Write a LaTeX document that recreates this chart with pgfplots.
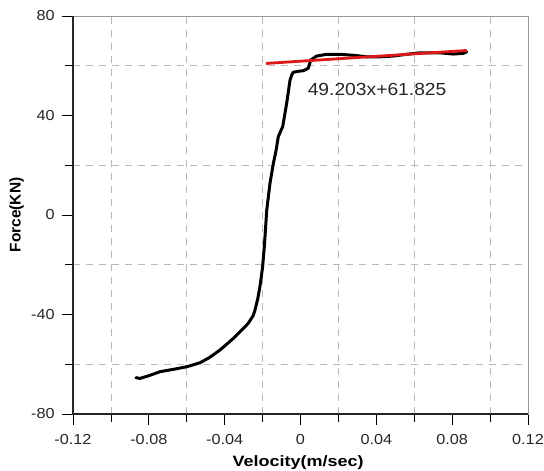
\documentclass[border=0pt]{standalone}
\usepackage{fontspec}
\setmainfont{Liberation Sans}
\usepackage{pgfplots}
\pgfplotsset{compat=1.18}
\definecolor{gridgray}{RGB}{185,185,185}
\definecolor{fitred}{RGB}{222,24,24}
\begin{document}
\begin{tikzpicture}
\begin{axis}[
  at={(0pt,0pt)}, anchor=south west,
  scale only axis, width=455pt, height=398pt,
  xmin=-0.12, xmax=0.12, ymin=-80, ymax=80,
  xtick={-0.12,-0.08,-0.04,0,0.04,0.08,0.12},
  xticklabels={-0.12,-0.08,-0.04,0,0.04,0.08,0.12},
  ytick={-80,-40,0,40,80},
  minor xtick={-0.1,-0.06,-0.02,0.02,0.06,0.1},
  minor ytick={-60,-20,20,60},
  tick align=outside, tick pos=left,
  major tick length=11pt, minor tick length=8pt,
  every tick/.style={black, line width=0.8pt},
  minor grid style={gridgray, dash pattern=on 7pt off 6pt, line width=0.7pt},
  xminorgrids, yminorgrids,
  axis line style={gray!80, line width=0.6pt},
  /pgf/number format/assume math mode=true,
  tick label style={font=\fontsize{14.5}{16}\selectfont, xscale=1.12, text=black!85},
  xticklabel style={yshift=-6pt},
  yticklabel style={xshift=-3pt},
  xlabel={Velocity(m/sec)},
  ylabel={Force(KN)},
  xlabel style={font=\bfseries\fontsize{15}{17}\selectfont, xscale=1.2, yshift=-4pt, xshift=-2pt},
  ylabel style={font=\bfseries\fontsize{15.5}{17}\selectfont, yshift=0pt},
  clip=false,
]
\addplot[black, line width=3pt, line join=round, line cap=round] coordinates {
(-0.0868,-65.4) (-0.0847,-65.7) (-0.0800,-64.6) (-0.0741,-63.0) (-0.0660,-61.9)
(-0.0600,-61.0) (-0.0530,-59.4) (-0.0480,-57.3) (-0.0425,-54.3) (-0.0354,-49.6)
(-0.0300,-45.5) (-0.0275,-43.5) (-0.0250,-40.5) (-0.0240,-38.2) (-0.0225,-33.5)
(-0.0214,-28.8) (-0.0200,-21.0) (-0.0190,-12.0) (-0.0185,-6.0) (-0.0178,2.0)
(-0.0161,12.7) (-0.0143,20.8) (-0.0130,25.5) (-0.0117,31.5) (-0.0100,34.5)
(-0.0094,35.5) (-0.0073,44.9) (-0.0055,54.3) (-0.0045,56.5) (-0.0038,57.4)
(-0.0010,57.8) (0.0015,58.0) (0.0041,59.0) (0.0054,62.3) (0.0085,63.9)
(0.0138,64.6) (0.0208,64.6) (0.0280,64.2) (0.0349,63.6) (0.0420,63.6)
(0.0490,63.9) (0.0560,64.6) (0.0630,65.2) (0.0736,65.2) (0.0806,64.7)
(0.0859,65.0) (0.0877,65.6)
};
\addplot[fitred, line width=2.8pt] coordinates {(-0.0182,60.93) (0.0877,66.14)};
\node[font=\fontsize{17.5}{19}\selectfont, xscale=1.1, text=black!85] at (axis cs:0.0404,50.45) {49.203x+61.825};
\draw[black!85, line width=1.3pt] (rel axis cs:0,1) -- (rel axis cs:0,0) -- (rel axis cs:1,0);
\end{axis}
\pgfresetboundingbox
\useasboundingbox (-73pt,-57pt) rectangle (471pt,414pt);
\end{tikzpicture}
\end{document}
